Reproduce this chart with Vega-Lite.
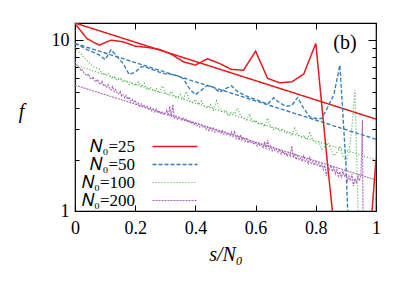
{
 "$schema": "https://vega.github.io/schema/vega-lite/v6.json",
 "width": 301, "height": 188,
 "autosize": {"type": "none"},
 "padding": {"left": 75, "top": 23, "right": 31, "bottom": 74},
 "config": {
  "view": {"stroke": "black", "strokeWidth": 1.2},
  "font": "Liberation Serif",
  "axis": {"domain": false, "grid": false, "tickColor": "black", "labelColor": "black", "titleColor": "black", "labelFont": "Liberation Serif", "titleFont": "Liberation Serif", "labelFontSize": 18, "tickWidth": 1}
 },
 "data": {"values": [
  {"s":"25","k":"f","x":0,"f":12.6},{"s":"25","k":"f","x":1,"f":3.45},
  {"s":"50","k":"f","x":0,"f":9.57},{"s":"50","k":"f","x":1,"f":2.63},
  {"s":"100","k":"f","x":0,"f":7.14},{"s":"100","k":"f","x":1,"f":1.99},
  {"s":"200","k":"f","x":0,"f":5.45},{"s":"200","k":"f","x":1,"f":1.52},
  {"s":"25","k":"d","x":0,"f":12.5},{"s":"25","k":"d","x":0.04,"f":10.2},{"s":"25","k":"d","x":0.08,"f":9.35},{"s":"25","k":"d","x":0.12,"f":10.0},{"s":"25","k":"d","x":0.16,"f":9.78},{"s":"25","k":"d","x":0.2,"f":9.22},{"s":"25","k":"d","x":0.24,"f":9.07},{"s":"25","k":"d","x":0.28,"f":8.83},{"s":"25","k":"d","x":0.32,"f":8.28},{"s":"25","k":"d","x":0.36,"f":7.47},{"s":"25","k":"d","x":0.4,"f":7.14},{"s":"25","k":"d","x":0.44,"f":7.78},{"s":"25","k":"d","x":0.48,"f":7.31},{"s":"25","k":"d","x":0.52,"f":6.74},{"s":"25","k":"d","x":0.56,"f":6.67},{"s":"25","k":"d","x":0.6,"f":8.62},{"s":"25","k":"d","x":0.64,"f":5.97},{"s":"25","k":"d","x":0.68,"f":5.63},{"s":"25","k":"d","x":0.72,"f":5.7},{"s":"25","k":"d","x":0.76,"f":6.33},{"s":"25","k":"d","x":0.8,"f":9.57},{"s":"25","k":"d","x":0.84,"f":1.8},{"s":"25","k":"d","x":0.88,"f":0.38},{"s":"25","k":"d","x":0.92,"f":0.2},{"s":"25","k":"d","x":0.96,"f":0.24},{"s":"25","k":"d","x":1,"f":2.0},
  {"s":"50","k":"d","x":0,"f":9.56},{"s":"50","k":"d","x":0.02,"f":9.2},{"s":"50","k":"d","x":0.04,"f":8.8},{"s":"50","k":"d","x":0.06,"f":8.5},{"s":"50","k":"d","x":0.08,"f":8.2},{"s":"50","k":"d","x":0.1,"f":7.7},{"s":"50","k":"d","x":0.12,"f":8.8},{"s":"50","k":"d","x":0.14,"f":8.0},{"s":"50","k":"d","x":0.16,"f":7.3},{"s":"50","k":"d","x":0.18,"f":6.3},{"s":"50","k":"d","x":0.2,"f":6.5},{"s":"50","k":"d","x":0.22,"f":7.0},{"s":"50","k":"d","x":0.24,"f":6.9},{"s":"50","k":"d","x":0.26,"f":6.7},{"s":"50","k":"d","x":0.28,"f":6.5},{"s":"50","k":"d","x":0.3,"f":6.35},{"s":"50","k":"d","x":0.32,"f":6.3},{"s":"50","k":"d","x":0.34,"f":6.2},{"s":"50","k":"d","x":0.36,"f":5.95},{"s":"50","k":"d","x":0.38,"f":5.2},{"s":"50","k":"d","x":0.4,"f":4.8},{"s":"50","k":"d","x":0.42,"f":5.1},{"s":"50","k":"d","x":0.44,"f":5.45},{"s":"50","k":"d","x":0.46,"f":5.3},{"s":"50","k":"d","x":0.48,"f":4.95},{"s":"50","k":"d","x":0.5,"f":5.2},{"s":"50","k":"d","x":0.52,"f":5.4},{"s":"50","k":"d","x":0.54,"f":5.0},{"s":"50","k":"d","x":0.56,"f":4.8},{"s":"50","k":"d","x":0.58,"f":4.62},{"s":"50","k":"d","x":0.6,"f":4.5},{"s":"50","k":"d","x":0.62,"f":4.36},{"s":"50","k":"d","x":0.64,"f":4.22},{"s":"50","k":"d","x":0.66,"f":4.6},{"s":"50","k":"d","x":0.68,"f":4.3},{"s":"50","k":"d","x":0.7,"f":4.1},{"s":"50","k":"d","x":0.72,"f":4.15},{"s":"50","k":"d","x":0.74,"f":4.62},{"s":"50","k":"d","x":0.76,"f":3.98},{"s":"50","k":"d","x":0.78,"f":3.56},{"s":"50","k":"d","x":0.8,"f":3.48},{"s":"50","k":"d","x":0.82,"f":3.48},{"s":"50","k":"d","x":0.84,"f":4.07},{"s":"50","k":"d","x":0.86,"f":4.8},{"s":"50","k":"d","x":0.88,"f":7.14},{"s":"50","k":"d","x":0.9,"f":1.9},{"s":"50","k":"d","x":0.92,"f":0.22},{"s":"50","k":"d","x":0.94,"f":0.1},{"s":"50","k":"d","x":0.96,"f":0.1},{"s":"50","k":"d","x":0.98,"f":0.1},{"s":"50","k":"d","x":1,"f":0.1},
  {"s":"100","k":"d","x":0,"f":9.1},{"s":"100","k":"d","x":0.01,"f":8.6},{"s":"100","k":"d","x":0.02,"f":8.3},{"s":"100","k":"d","x":0.03,"f":7.9},{"s":"100","k":"d","x":0.04,"f":7.6},{"s":"100","k":"d","x":0.05,"f":7.3},{"s":"100","k":"d","x":0.06,"f":7.0},{"s":"100","k":"d","x":0.07,"f":6.9},{"s":"100","k":"d","x":0.08,"f":6.8},{"s":"100","k":"d","x":0.09,"f":6.4},
  {"s":"100","k":"d","x":0.1,"f":6.3},{"s":"100","k":"d","x":0.11,"f":6.4},{"s":"100","k":"d","x":0.12,"f":6.0},{"s":"100","k":"d","x":0.13,"f":6.1},{"s":"100","k":"d","x":0.14,"f":5.8},{"s":"100","k":"d","x":0.15,"f":6.0},{"s":"100","k":"d","x":0.16,"f":5.7},{"s":"100","k":"d","x":0.17,"f":5.8},{"s":"100","k":"d","x":0.18,"f":5.5},{"s":"100","k":"d","x":0.19,"f":5.6},
  {"s":"100","k":"d","x":0.2,"f":5.4},{"s":"100","k":"d","x":0.21,"f":5.7},{"s":"100","k":"d","x":0.22,"f":5.3},{"s":"100","k":"d","x":0.23,"f":5.6},{"s":"100","k":"d","x":0.24,"f":5.1},{"s":"100","k":"d","x":0.25,"f":5.3},{"s":"100","k":"d","x":0.26,"f":5.0},{"s":"100","k":"d","x":0.27,"f":5.2},{"s":"100","k":"d","x":0.28,"f":4.9},{"s":"100","k":"d","x":0.29,"f":5.4},
  {"s":"100","k":"d","x":0.3,"f":4.9},{"s":"100","k":"d","x":0.31,"f":4.8},{"s":"100","k":"d","x":0.32,"f":5.0},{"s":"100","k":"d","x":0.33,"f":4.7},{"s":"100","k":"d","x":0.34,"f":4.6},{"s":"100","k":"d","x":0.35,"f":4.8},{"s":"100","k":"d","x":0.36,"f":4.5},{"s":"100","k":"d","x":0.37,"f":5.0},{"s":"100","k":"d","x":0.38,"f":4.4},{"s":"100","k":"d","x":0.39,"f":4.3},
  {"s":"100","k":"d","x":0.4,"f":4.5},{"s":"100","k":"d","x":0.41,"f":4.2},{"s":"100","k":"d","x":0.42,"f":4.4},{"s":"100","k":"d","x":0.43,"f":4.1},{"s":"100","k":"d","x":0.44,"f":4.0},{"s":"100","k":"d","x":0.45,"f":4.2},{"s":"100","k":"d","x":0.46,"f":3.9},{"s":"100","k":"d","x":0.47,"f":4.4},{"s":"100","k":"d","x":0.48,"f":4.0},{"s":"100","k":"d","x":0.49,"f":3.8},
  {"s":"100","k":"d","x":0.5,"f":3.9},{"s":"100","k":"d","x":0.51,"f":3.6},{"s":"100","k":"d","x":0.52,"f":3.8},{"s":"100","k":"d","x":0.53,"f":3.7},{"s":"100","k":"d","x":0.54,"f":4.0},{"s":"100","k":"d","x":0.55,"f":3.6},{"s":"100","k":"d","x":0.56,"f":3.5},{"s":"100","k":"d","x":0.57,"f":3.4},{"s":"100","k":"d","x":0.58,"f":3.7},{"s":"100","k":"d","x":0.59,"f":3.3},
  {"s":"100","k":"d","x":0.6,"f":3.4},{"s":"100","k":"d","x":0.61,"f":3.2},{"s":"100","k":"d","x":0.62,"f":3.3},{"s":"100","k":"d","x":0.63,"f":3.1},{"s":"100","k":"d","x":0.64,"f":3.5},{"s":"100","k":"d","x":0.65,"f":3.1},{"s":"100","k":"d","x":0.66,"f":3.0},{"s":"100","k":"d","x":0.67,"f":3.1},{"s":"100","k":"d","x":0.68,"f":2.95},{"s":"100","k":"d","x":0.69,"f":3.0},
  {"s":"100","k":"d","x":0.7,"f":2.85},{"s":"100","k":"d","x":0.71,"f":2.9},{"s":"100","k":"d","x":0.72,"f":2.75},{"s":"100","k":"d","x":0.73,"f":3.05},{"s":"100","k":"d","x":0.74,"f":2.8},{"s":"100","k":"d","x":0.75,"f":2.7},{"s":"100","k":"d","x":0.76,"f":2.75},{"s":"100","k":"d","x":0.77,"f":2.6},{"s":"100","k":"d","x":0.78,"f":2.85},{"s":"100","k":"d","x":0.79,"f":2.6},
  {"s":"100","k":"d","x":0.8,"f":2.5},{"s":"100","k":"d","x":0.81,"f":2.55},{"s":"100","k":"d","x":0.82,"f":2.3},{"s":"100","k":"d","x":0.83,"f":2.4},{"s":"100","k":"d","x":0.84,"f":2.5},{"s":"100","k":"d","x":0.85,"f":2.3},{"s":"100","k":"d","x":0.86,"f":2.1},{"s":"100","k":"d","x":0.87,"f":2.2},{"s":"100","k":"d","x":0.88,"f":2.35},{"s":"100","k":"d","x":0.89,"f":2.1},
  {"s":"100","k":"d","x":0.9,"f":1.95},{"s":"100","k":"d","x":0.91,"f":2.2},{"s":"100","k":"d","x":0.92,"f":3.1},{"s":"100","k":"d","x":0.93,"f":5.1},{"s":"100","k":"d","x":0.94,"f":1.05},{"s":"100","k":"d","x":0.95,"f":0.2},{"s":"100","k":"d","x":0.96,"f":0.2},{"s":"100","k":"d","x":0.97,"f":0.2},{"s":"100","k":"d","x":0.98,"f":0.2},{"s":"100","k":"d","x":0.99,"f":0.2},{"s":"100","k":"d","x":1,"f":1.2},
  {"s":"200","k":"d","x":0,"f":7.5},{"s":"200","k":"d","x":0.005,"f":7.2},{"s":"200","k":"d","x":0.01,"f":7.0},{"s":"200","k":"d","x":0.015,"f":6.9},{"s":"200","k":"d","x":0.02,"f":6.6},{"s":"200","k":"d","x":0.025,"f":6.7},{"s":"200","k":"d","x":0.03,"f":6.4},{"s":"200","k":"d","x":0.035,"f":6.3},{"s":"200","k":"d","x":0.04,"f":6.2},{"s":"200","k":"d","x":0.045,"f":6.35},
  {"s":"200","k":"d","x":0.05,"f":6.0},{"s":"200","k":"d","x":0.055,"f":5.9},{"s":"200","k":"d","x":0.06,"f":6.1},{"s":"200","k":"d","x":0.065,"f":5.8},{"s":"200","k":"d","x":0.07,"f":5.7},{"s":"200","k":"d","x":0.075,"f":5.9},{"s":"200","k":"d","x":0.08,"f":5.6},{"s":"200","k":"d","x":0.085,"f":5.5},{"s":"200","k":"d","x":0.09,"f":5.75},{"s":"200","k":"d","x":0.095,"f":5.4},
  {"s":"200","k":"d","x":0.1,"f":5.45},{"s":"200","k":"d","x":0.105,"f":5.3},{"s":"200","k":"d","x":0.11,"f":5.5},{"s":"200","k":"d","x":0.115,"f":5.2},{"s":"200","k":"d","x":0.12,"f":5.1},{"s":"200","k":"d","x":0.125,"f":5.35},{"s":"200","k":"d","x":0.13,"f":5.0},{"s":"200","k":"d","x":0.135,"f":5.15},{"s":"200","k":"d","x":0.14,"f":4.9},{"s":"200","k":"d","x":0.145,"f":4.85},
  {"s":"200","k":"d","x":0.15,"f":5.0},{"s":"200","k":"d","x":0.155,"f":4.7},{"s":"200","k":"d","x":0.16,"f":4.8},{"s":"200","k":"d","x":0.165,"f":4.6},{"s":"200","k":"d","x":0.17,"f":4.75},{"s":"200","k":"d","x":0.175,"f":4.5},{"s":"200","k":"d","x":0.18,"f":4.65},{"s":"200","k":"d","x":0.185,"f":4.4},{"s":"200","k":"d","x":0.19,"f":4.5},{"s":"200","k":"d","x":0.195,"f":4.35},
  {"s":"200","k":"d","x":0.2,"f":4.45},{"s":"200","k":"d","x":0.205,"f":4.2},{"s":"200","k":"d","x":0.21,"f":4.3},{"s":"200","k":"d","x":0.215,"f":4.1},{"s":"200","k":"d","x":0.22,"f":4.25},{"s":"200","k":"d","x":0.225,"f":4.05},{"s":"200","k":"d","x":0.23,"f":4.15},{"s":"200","k":"d","x":0.235,"f":4.0},{"s":"200","k":"d","x":0.24,"f":4.1},{"s":"200","k":"d","x":0.245,"f":3.95},
  {"s":"200","k":"d","x":0.25,"f":4.05},{"s":"200","k":"d","x":0.255,"f":3.85},{"s":"200","k":"d","x":0.26,"f":3.95},{"s":"200","k":"d","x":0.265,"f":3.8},{"s":"200","k":"d","x":0.27,"f":3.95},{"s":"200","k":"d","x":0.275,"f":3.75},{"s":"200","k":"d","x":0.28,"f":3.85},{"s":"200","k":"d","x":0.285,"f":3.7},{"s":"200","k":"d","x":0.29,"f":3.8},{"s":"200","k":"d","x":0.295,"f":3.65},
  {"s":"200","k":"d","x":0.3,"f":3.75},{"s":"200","k":"d","x":0.305,"f":3.9},{"s":"200","k":"d","x":0.31,"f":3.6},{"s":"200","k":"d","x":0.315,"f":4.1},{"s":"200","k":"d","x":0.32,"f":3.55},{"s":"200","k":"d","x":0.325,"f":4.2},{"s":"200","k":"d","x":0.33,"f":3.5},{"s":"200","k":"d","x":0.335,"f":3.6},{"s":"200","k":"d","x":0.34,"f":3.45},{"s":"200","k":"d","x":0.345,"f":3.55},
  {"s":"200","k":"d","x":0.35,"f":3.5},{"s":"200","k":"d","x":0.355,"f":3.4},{"s":"200","k":"d","x":0.36,"f":3.5},{"s":"200","k":"d","x":0.365,"f":3.35},{"s":"200","k":"d","x":0.37,"f":3.45},{"s":"200","k":"d","x":0.375,"f":3.3},{"s":"200","k":"d","x":0.38,"f":3.4},{"s":"200","k":"d","x":0.385,"f":3.25},{"s":"200","k":"d","x":0.39,"f":3.35},{"s":"200","k":"d","x":0.395,"f":3.2},
  {"s":"200","k":"d","x":0.4,"f":3.3},{"s":"200","k":"d","x":0.405,"f":3.15},{"s":"200","k":"d","x":0.41,"f":3.25},{"s":"200","k":"d","x":0.415,"f":3.1},{"s":"200","k":"d","x":0.42,"f":3.2},{"s":"200","k":"d","x":0.425,"f":3.1},{"s":"200","k":"d","x":0.43,"f":3.15},{"s":"200","k":"d","x":0.435,"f":3.0},{"s":"200","k":"d","x":0.44,"f":3.1},{"s":"200","k":"d","x":0.445,"f":2.95},
  {"s":"200","k":"d","x":0.45,"f":3.1},{"s":"200","k":"d","x":0.455,"f":2.95},{"s":"200","k":"d","x":0.46,"f":3.05},{"s":"200","k":"d","x":0.465,"f":2.9},{"s":"200","k":"d","x":0.47,"f":3.0},{"s":"200","k":"d","x":0.475,"f":2.9},{"s":"200","k":"d","x":0.48,"f":2.95},{"s":"200","k":"d","x":0.485,"f":2.85},{"s":"200","k":"d","x":0.49,"f":2.95},{"s":"200","k":"d","x":0.495,"f":2.8},
  {"s":"200","k":"d","x":0.5,"f":2.9},{"s":"200","k":"d","x":0.505,"f":2.8},{"s":"200","k":"d","x":0.51,"f":2.85},{"s":"200","k":"d","x":0.515,"f":2.75},{"s":"200","k":"d","x":0.52,"f":2.9},{"s":"200","k":"d","x":0.525,"f":2.7},{"s":"200","k":"d","x":0.53,"f":2.95},{"s":"200","k":"d","x":0.535,"f":2.65},{"s":"200","k":"d","x":0.54,"f":2.75},{"s":"200","k":"d","x":0.545,"f":2.6},
  {"s":"200","k":"d","x":0.55,"f":2.8},{"s":"200","k":"d","x":0.555,"f":2.6},{"s":"200","k":"d","x":0.56,"f":2.7},{"s":"200","k":"d","x":0.565,"f":2.55},{"s":"200","k":"d","x":0.57,"f":2.65},{"s":"200","k":"d","x":0.575,"f":2.5},{"s":"200","k":"d","x":0.58,"f":2.6},{"s":"200","k":"d","x":0.585,"f":2.5},{"s":"200","k":"d","x":0.59,"f":2.55},{"s":"200","k":"d","x":0.595,"f":2.45},
  {"s":"200","k":"d","x":0.6,"f":2.55},{"s":"200","k":"d","x":0.605,"f":2.4},{"s":"200","k":"d","x":0.61,"f":2.5},{"s":"200","k":"d","x":0.615,"f":2.4},{"s":"200","k":"d","x":0.62,"f":2.45},{"s":"200","k":"d","x":0.625,"f":2.35},{"s":"200","k":"d","x":0.63,"f":2.55},{"s":"200","k":"d","x":0.635,"f":2.3},{"s":"200","k":"d","x":0.64,"f":2.6},{"s":"200","k":"d","x":0.645,"f":2.3},
  {"s":"200","k":"d","x":0.65,"f":2.4},{"s":"200","k":"d","x":0.655,"f":2.25},{"s":"200","k":"d","x":0.66,"f":2.35},{"s":"200","k":"d","x":0.665,"f":2.25},{"s":"200","k":"d","x":0.67,"f":2.3},{"s":"200","k":"d","x":0.675,"f":2.2},{"s":"200","k":"d","x":0.68,"f":2.3},{"s":"200","k":"d","x":0.685,"f":2.15},{"s":"200","k":"d","x":0.69,"f":2.25},{"s":"200","k":"d","x":0.695,"f":2.15},
  {"s":"200","k":"d","x":0.7,"f":2.2},{"s":"200","k":"d","x":0.705,"f":2.1},{"s":"200","k":"d","x":0.71,"f":2.2},{"s":"200","k":"d","x":0.715,"f":2.1},{"s":"200","k":"d","x":0.72,"f":2.4},{"s":"200","k":"d","x":0.725,"f":2.05},{"s":"200","k":"d","x":0.73,"f":2.15},{"s":"200","k":"d","x":0.735,"f":2.0},{"s":"200","k":"d","x":0.74,"f":2.1},{"s":"200","k":"d","x":0.745,"f":2.0},
  {"s":"200","k":"d","x":0.75,"f":2.05},{"s":"200","k":"d","x":0.755,"f":1.95},{"s":"200","k":"d","x":0.76,"f":2.1},{"s":"200","k":"d","x":0.765,"f":1.95},{"s":"200","k":"d","x":0.77,"f":2.0},{"s":"200","k":"d","x":0.775,"f":1.9},{"s":"200","k":"d","x":0.78,"f":2.05},{"s":"200","k":"d","x":0.785,"f":1.9},{"s":"200","k":"d","x":0.79,"f":1.95},{"s":"200","k":"d","x":0.795,"f":1.85},
  {"s":"200","k":"d","x":0.8,"f":1.95},{"s":"200","k":"d","x":0.805,"f":1.85},{"s":"200","k":"d","x":0.81,"f":1.9},{"s":"200","k":"d","x":0.815,"f":1.8},{"s":"200","k":"d","x":0.82,"f":1.9},{"s":"200","k":"d","x":0.825,"f":1.75},{"s":"200","k":"d","x":0.83,"f":1.85},{"s":"200","k":"d","x":0.835,"f":1.6},{"s":"200","k":"d","x":0.84,"f":1.8},{"s":"200","k":"d","x":0.845,"f":1.75},
  {"s":"200","k":"d","x":0.85,"f":1.85},{"s":"200","k":"d","x":0.855,"f":1.7},{"s":"200","k":"d","x":0.86,"f":1.8},{"s":"200","k":"d","x":0.865,"f":1.65},{"s":"200","k":"d","x":0.87,"f":1.75},{"s":"200","k":"d","x":0.875,"f":1.6},{"s":"200","k":"d","x":0.88,"f":1.7},{"s":"200","k":"d","x":0.885,"f":1.55},{"s":"200","k":"d","x":0.89,"f":1.7},{"s":"200","k":"d","x":0.895,"f":1.6},
  {"s":"200","k":"d","x":0.9,"f":1.65},{"s":"200","k":"d","x":0.905,"f":1.5},{"s":"200","k":"d","x":0.91,"f":1.6},{"s":"200","k":"d","x":0.915,"f":1.5},{"s":"200","k":"d","x":0.92,"f":1.65},{"s":"200","k":"d","x":0.925,"f":1.4},{"s":"200","k":"d","x":0.93,"f":1.55},{"s":"200","k":"d","x":0.935,"f":1.45},{"s":"200","k":"d","x":0.94,"f":1.6},{"s":"200","k":"d","x":0.945,"f":1.5},
  {"s":"200","k":"d","x":0.95,"f":1.65},{"s":"200","k":"d","x":0.955,"f":3.4},{"s":"200","k":"d","x":0.96,"f":0.1},{"s":"200","k":"d","x":0.965,"f":0.1},{"s":"200","k":"d","x":0.97,"f":0.1},{"s":"200","k":"d","x":0.975,"f":0.1},{"s":"200","k":"d","x":0.98,"f":0.1},{"s":"200","k":"d","x":0.985,"f":0.1},{"s":"200","k":"d","x":0.99,"f":0.1},{"s":"200","k":"d","x":0.995,"f":0.1},{"s":"200","k":"d","x":1,"f":0.1}
 ]},
 "layer": [
  {
   "mark": {"type": "line", "clip": true},
   "encoding": {
    "x": {"field": "x", "type": "quantitative", "scale": {"domain": [0, 1], "nice": false},
     "axis": {"orient": "bottom", "values": [0, 0.2, 0.4, 0.6, 0.8, 1], "tickSize": -6, "labelPadding": 14, "labelFlush": false,
      "labelExpr": "datum.value == 0 ? '0' : datum.value == 1 ? '1' : format(datum.value, '.1f')",
      "title": "s/N₀", "titleFontSize": 20, "titleFontStyle": "italic", "titleFontWeight": "normal", "titlePadding": 7}},
    "y": {"field": "f", "type": "quantitative", "scale": {"type": "log", "domain": [1, 12.6], "nice": false},
     "axis": {"orient": "left", "values": [1, 2, 3, 4, 5, 6, 7, 8, 9, 10],
      "labelExpr": "datum.value == 1 ? '1' : datum.value == 10 ? '10' : ''",
      "tickSize": {"condition": {"test": "datum.value == 1 || datum.value == 10", "value": -8}, "value": -4},
      "labelPadding": 14, "title": "f", "titleAngle": 0, "titleFontSize": 20, "titleFontStyle": "italic", "titleFontWeight": "normal", "titleBaseline": "middle", "titleAlign": "center", "titlePadding": 30, "titleY": 88}},
    "color": {"field": "s", "type": "nominal",
     "scale": {"domain": ["25", "50", "100", "200"], "range": ["#e41a1c", "#377eb8", "#4daf4a", "#a865b5"]},
     "legend": {"orient": "none", "legendX": 91.5, "legendY": 115, "title": null, "labelAlign": "right", "labelOffset": -48.5,
      "symbolSize": 81, "symbolType": "M-5,0H5", "labelFontSize": 17, "labelFont": "Liberation Serif", "labelColor": "black",
      "labelExpr": "'𝑁₀=' + datum.label", "rowPadding": 0}},
    "strokeDash": {"field": "s", "type": "nominal",
     "scale": {"domain": ["25", "50", "100", "200"], "range": [[1, 0], [4, 2], [1, 2], [2, 1]]}},
    "strokeWidth": {"field": "s", "type": "nominal",
     "scale": {"domain": ["25", "50", "100", "200"], "range": [1.5, 1.1, 1.1, 1.1]}},
    "detail": {"field": "k"},
    "order": {"field": "x", "type": "quantitative"}
   }
  },
  {
   "data": {"values": [{"label": "(b)"}]},
   "mark": {"type": "text", "fontSize": 20, "font": "Liberation Serif", "baseline": "middle", "align": "center"},
   "encoding": {
    "x": {"datum": 0.897, "type": "quantitative",
     "axis": {"orient": "top", "values": [0, 0.2, 0.4, 0.6, 0.8, 1], "tickSize": -6, "labels": false, "title": null}},
    "y": {"datum": 9.6, "type": "quantitative",
     "axis": {"orient": "right", "values": [1, 2, 3, 4, 5, 6, 7, 8, 9, 10], "labels": false, "title": null,
      "tickSize": {"condition": {"test": "datum.value == 1 || datum.value == 10", "value": -8}, "value": -4}}},
    "text": {"field": "label"}
   }
  }
 ],
 "resolve": {"axis": {"x": "independent", "y": "independent"}}
}
